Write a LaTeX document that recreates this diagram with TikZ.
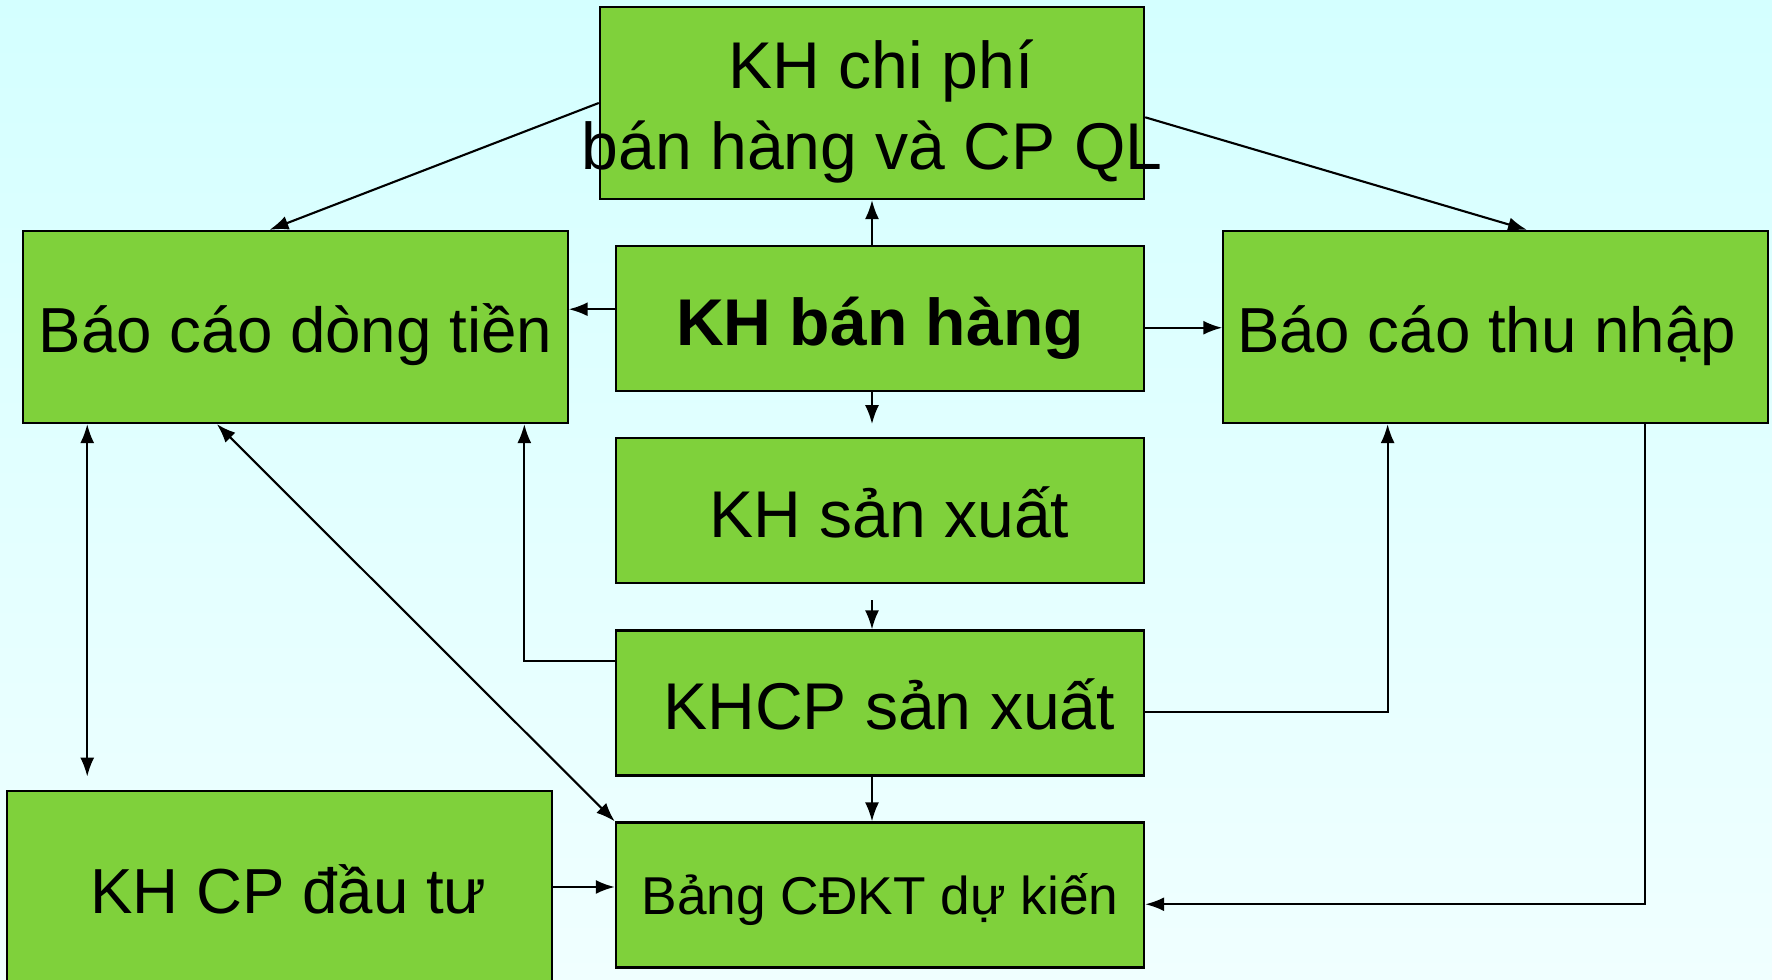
\documentclass[tikz,border=0pt]{standalone}
\usepackage{fontspec}
\setmainfont{Liberation Sans}
\usetikzlibrary{arrows.meta}
\definecolor{boxgreen}{RGB}{127,209,59}
\definecolor{bgtop}{RGB}{212,255,255}
\definecolor{bgbottom}{RGB}{240,255,255}

\begin{document}
\begin{tikzpicture}[x=0.01cm, y=-0.01cm,
    plan/.style={draw, fill=boxgreen, line width=0.6pt, inner sep=0pt,
      minimum width=5.44cm, minimum height=1.92cm,
      text height=0.5cm, text depth=0pt,
      font=\fontsize{18.1}{21.7}\selectfont},
    smallplan/.style={plan, minimum width=5.28cm, minimum height=1.45cm,
      text height=0.53cm, font=\fontsize{18.8}{22.6}\selectfont},
    link/.style={-{Latex[length=1.9mm,width=1.4mm]}, line width=0.6pt},
    twolink/.style={link, {Latex[length=1.9mm,width=1.4mm]}-{Latex[length=1.9mm,width=1.4mm]}}]

  \useasboundingbox (0,0) rectangle (1772,980);
  \fill[top color=bgtop, bottom color=bgbottom] (0,0) rectangle (1772,980);

  % the plans
  \node[plan, align=center, text height=1.32cm, text depth=0pt,
        font=\fontsize{18.8}{23}\selectfont] (chiphi) at (872,103)
    {\makebox[0pt]{\ KH chi phí}\\\makebox[0pt]{bán hàng và CP QL}};
  \node[plan] (dongtien) at (295.5,327) {Báo cáo dòng tiền};
  \node[smallplan, text height=0.545cm, font=\fontsize{18.8}{22.6}\selectfont\bfseries] (banhang) at (880,318.5) {KH bán hàng};
  \node[plan] (thunhap) at (1495.5,327) {Báo cáo thu nhập\hspace*{.28em}};
  \node[smallplan] (sanxuat) at (880,510.5) {\ KH sản xuất};
  \node[smallplan] (khcp) at (880,703) {\ KHCP sản xuất};
  \node[plan, text height=0.52cm] (dautu) at (279.5,887) {\ KH CP đầu tư};
  \node[smallplan, text height=0.38cm, font=\fontsize{15.15}{18}\selectfont] (bang) at (880,895) {Bảng CĐKT dự kiến};

  % links
  \draw[link] (chiphi.west) -- (dongtien.105);
  \draw[link] (chiphi.357) -- (thunhap.72);
  \draw[link] (banhang.north -| chiphi.south) -- (chiphi.south);
  \draw[link] (banhang.178) -- (banhang.178 -| dongtien.east);
  \draw[link] (banhang.358) -- (banhang.358 -| thunhap.west);
  \draw[link] (banhang.south -| chiphi.south) -- (dongtien.south -| chiphi.south);
  \path (sanxuat.south -| chiphi.south) ++(0,16) coordinate (sxgap);
  \draw[link] (sxgap) -- (khcp.north -| sxgap);
  \draw[link] (khcp.171) -| (dongtien.337);
  \draw[link] (khcp.358) -| (thunhap.222);
  \draw[link] (khcp.south -| chiphi.south) -- (bang.north -| chiphi.south);
  \draw[twolink] (dongtien.205) -- (dongtien.205 |- khcp.south);
  \draw[twolink] (dongtien.231) -- (bang.north west);
  \draw[link] (dautu.east) -- (dautu.east -| bang.west);
  \draw[link] (thunhap.327) |- (bang.358);

\end{tikzpicture}
\end{document}
